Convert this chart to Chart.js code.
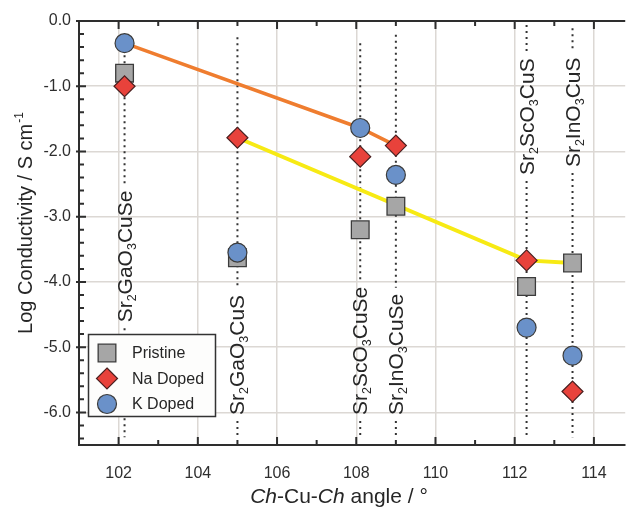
<!DOCTYPE html>
<html><head><meta charset="utf-8">
<script src="https://cdn.jsdelivr.net/npm/chart.js@4/dist/chart.umd.min.js"></script>
<style>html,body{margin:0;padding:0;background:#fff;overflow:hidden}#wrap{width:639px;height:514px;position:relative}</style>
</head><body><div id="wrap"><canvas id="c"></canvas></div>
<script>
// ---- data ----
const compoundNames  = ['Sr2GaO3CuSe', 'Sr2GaO3CuS', 'Sr2ScO3CuSe', 'Sr2InO3CuSe', 'Sr2ScO3CuS', 'Sr2InO3CuS'];
const compoundAngles = [102.15, 105.0, 108.1, 109.0, 112.3, 113.46];
const pristine = [-0.80, -3.63, -3.20, -2.84, -4.07, -3.71];
const naDoped  = [-1.00, -1.79, -2.08, -1.91, -3.67, -5.68];
const kDoped   = [-0.34, -3.55, -1.64, -2.36, -4.70, -5.13];
const orangeTrendX = [102.15, 108.1, 109.0];
const orangeTrendY = [-0.34, -1.64, -1.91];
const yellowTrendX = [105.0, 112.3, 113.46];
const yellowTrendY = [-1.79, -3.67, -3.71];
const labelStartY = [-4.62, -6.04, -6.04, -6.04, -2.36, -2.24];   // data value where each rotated label begins
const guideTopY   = [-0.34, -0.25, -0.34, -0.21, -0.06, -0.11];
const guideBottomY = -6.38;
const xTicks = [102, 104, 106, 108, 110, 112, 114];
const xMinorTicks = [101, 103, 105, 107, 109, 111, 113];
const yTicks = [0, -1, -2, -3, -4, -5, -6];
const seriesNames = ['Pristine', 'Na Doped', 'K Doped'];

const FONT = "'Liberation Sans', Arial, sans-serif";
const AX = '#2e2e2e';
const pts = (xs, ys) => xs.map((x, i) => ({x, y: ys[i]}));

const styles = {
  'Pristine': {pointStyle: 'rect', pointRadius: 12.5, backgroundColor: '#a6a6a6', borderColor: '#3c3c3c', borderWidth: 1.3},
  'Na Doped': {pointStyle: 'rectRot', pointRadius: 10.5, backgroundColor: '#e8423b', borderColor: '#4a2020', borderWidth: 1.2},
  'K Doped':  {pointStyle: 'circle', pointRadius: 9.5, backgroundColor: '#6a91c9', borderColor: '#3c3c3c', borderWidth: 1.2}
};

function chemRuns(str) {
  const runs = [];
  for (const ch of str) {
    const sub = /[0-9]/.test(ch);
    if (runs.length && runs[runs.length - 1].sub === sub) runs[runs.length - 1].t += ch;
    else runs.push({t: ch, sub});
  }
  return runs;
}
const MAINF = '21px ' + FONT, SUBF = '12.5px ' + FONT;
function chemWidth(ctx, str) {
  let w = 0;
  for (const r of chemRuns(str)) { ctx.font = r.sub ? SUBF : MAINF; w += ctx.measureText(r.t).width; }
  return w;
}
function drawChem(ctx, str, x, y) {
  let cx = x;
  ctx.textBaseline = 'alphabetic'; ctx.textAlign = 'left';
  for (const r of chemRuns(str)) {
    ctx.font = r.sub ? SUBF : MAINF;
    ctx.fillText(r.t, cx, r.sub ? y + 4 : y);
    cx += ctx.measureText(r.t).width;
  }
}
function drawMarker(ctx, st, x, y) {
  ctx.save();
  ctx.fillStyle = st.backgroundColor; ctx.strokeStyle = st.borderColor; ctx.lineWidth = st.borderWidth;
  ctx.beginPath();
  const r = st.pointRadius;
  if (st.pointStyle === 'rect') { const s = r * Math.SQRT1_2; ctx.rect(x - s, y - s, 2 * s, 2 * s); }
  else if (st.pointStyle === 'rectRot') { ctx.moveTo(x, y - r); ctx.lineTo(x + r, y); ctx.lineTo(x, y + r); ctx.lineTo(x - r, y); ctx.closePath(); }
  else { ctx.arc(x, y, r, 0, Math.PI * 2); }
  ctx.fill(); ctx.stroke();
  ctx.restore();
}

const guidePlugin = {
  id: 'guides',
  beforeDatasetsDraw(chart) {
    const {ctx, scales: {x, y}} = chart;
    ctx.save();
    compoundNames.forEach((name, i) => {
      const px = x.getPixelForValue(compoundAngles[i]);
      const top = y.getPixelForValue(guideTopY[i]);
      const bot = y.getPixelForValue(guideBottomY);
      const w = chemWidth(ctx, name);
      const lb = y.getPixelForValue(labelStartY[i]);
      const lt = lb - w;
      ctx.strokeStyle = '#333'; ctx.lineWidth = 2; ctx.setLineDash([2, 4]);
      ctx.beginPath();
      ctx.moveTo(px, top); ctx.lineTo(px, lt - 6);
      ctx.moveTo(px, lb + 6); ctx.lineTo(px, bot);
      ctx.stroke();
      ctx.setLineDash([]);
      ctx.save();
      ctx.translate(px, lb); ctx.rotate(-Math.PI / 2);
      ctx.fillStyle = '#262626';
      drawChem(ctx, name, 0, 7);
      ctx.restore();
    });
    ctx.restore();
  },
  afterDraw(chart) {
    const {ctx, chartArea: a, scales: {x, y}} = chart;
    ctx.save();
    // top frame line
    ctx.strokeStyle = AX; ctx.lineWidth = 2;
    ctx.beginPath(); ctx.moveTo(a.left - 1, a.top); ctx.lineTo(a.right, a.top); ctx.stroke();
    // inward tick marks
    ctx.lineWidth = 2;
    ctx.beginPath();
    const xt = (v, len) => { const p = x.getPixelForValue(v);
      ctx.moveTo(p, a.bottom); ctx.lineTo(p, a.bottom - len);
      ctx.moveTo(p, a.top); ctx.lineTo(p, a.top + len); };
    xTicks.forEach(v => xt(v, 8)); xMinorTicks.forEach(v => xt(v, 5));
    for (let k = 0; k <= 32; k++) {
      const v = -k * 0.2; const p = y.getPixelForValue(v);
      const major = k % 5 === 0;
      ctx.moveTo(a.left - (major ? 3 : 0), p); ctx.lineTo(a.left + (major ? 7 : 5), p);
    }
    ctx.stroke();
    // axis titles
    ctx.fillStyle = '#262626';
    ctx.textBaseline = 'alphabetic'; ctx.textAlign = 'left';
    const yt1 = 'Log Conductivity / S cm', yt2 = '-1';
    ctx.font = '20px ' + FONT; const w1 = ctx.measureText(yt1).width;
    ctx.font = '12px ' + FONT; const w2 = ctx.measureText(yt2).width;
    ctx.save(); ctx.translate(32, 223 + (w1 + w2 + 1) / 2); ctx.rotate(-Math.PI / 2);
    ctx.font = '20px ' + FONT; ctx.fillText(yt1, 0, 0);
    ctx.font = '12px ' + FONT; ctx.fillText(yt2, w1 + 1, -9);
    ctx.restore();
    const parts = [['Ch', true], ['-Cu-', false], ['Ch', true], [' angle / °', false]];
    let tw = 0;
    parts.forEach(([t, it]) => { ctx.font = (it ? 'italic ' : '') + '21px ' + FONT; tw += ctx.measureText(t).width; });
    let cx = 339 - tw / 2;
    parts.forEach(([t, it]) => { ctx.font = (it ? 'italic ' : '') + '21px ' + FONT; ctx.fillText(t, cx, 503); cx += ctx.measureText(t).width; });
    // legend
    ctx.fillStyle = '#fdfdfc'; ctx.strokeStyle = '#333'; ctx.lineWidth = 1.5;
    ctx.beginPath(); ctx.rect(88.5, 334.5, 127, 82); ctx.fill(); ctx.stroke();
    seriesNames.forEach((n, i) => {
      const ry = 353 + i * 25.5;
      drawMarker(ctx, styles[n], 107, ry);
      ctx.fillStyle = '#262626'; ctx.font = '16px ' + FONT; ctx.textBaseline = 'middle';
      ctx.fillText(n, 132, ry + 1);
    });
    ctx.restore();
  }
};

const chart = new Chart(document.getElementById('c'), {
  type: 'scatter',
  data: {
    datasets: [
      Object.assign({label: 'K Doped', data: pts(compoundAngles, kDoped), order: 0}, styles['K Doped']),
      Object.assign({label: 'Na Doped', data: pts(compoundAngles, naDoped), order: 1}, styles['Na Doped']),
      Object.assign({label: 'Pristine', data: pts(compoundAngles, pristine), order: 2}, styles['Pristine']),
      {label: 'trend1', data: pts(orangeTrendX, orangeTrendY), showLine: true, borderColor: '#ef7d2f', borderWidth: 3.5, pointRadius: 0, order: 3},
      {label: 'trend2', data: pts(yellowTrendX, yellowTrendY), showLine: true, borderColor: '#f7ea14', borderWidth: 4, pointRadius: 0, order: 4}
    ]
  },
  options: {
    responsive: true, maintainAspectRatio: false, animation: false,
    layout: {padding: {top: 21, right: 0, left: 0, bottom: 0}},
    plugins: {legend: {display: false}, tooltip: {enabled: false}},
    scales: {
      x: {
        type: 'linear', min: 101, max: 114.79,
        afterBuildTicks: s => { s.ticks = xTicks.map(v => ({value: v})); },
        afterFit: s => { s.height = 69; },
        grid: {color: '#dcd8d4', lineWidth: 1.5, drawTicks: false},
        border: {display: true, color: AX, width: 2},
        ticks: {font: {family: FONT, size: 16}, color: '#2e2e2e', padding: 19, maxRotation: 0, autoSkip: false, callback: v => String(v)}
      },
      y: {
        type: 'linear', min: -6.5, max: 0,
        afterBuildTicks: s => { s.ticks = yTicks.map(v => ({value: v})); },
        afterFit: s => { s.width = 79; },
        grid: {color: '#dcd8d4', lineWidth: 1.5, drawTicks: false},
        border: {display: true, color: AX, width: 2},
        ticks: {font: {family: FONT, size: 16}, color: '#2e2e2e', padding: 8, autoSkip: false, callback: v => (Math.abs(v) < 1e-9 ? 0 : v).toFixed(1)}
      }
    }
  },
  plugins: [guidePlugin]
});
</script></body></html>
